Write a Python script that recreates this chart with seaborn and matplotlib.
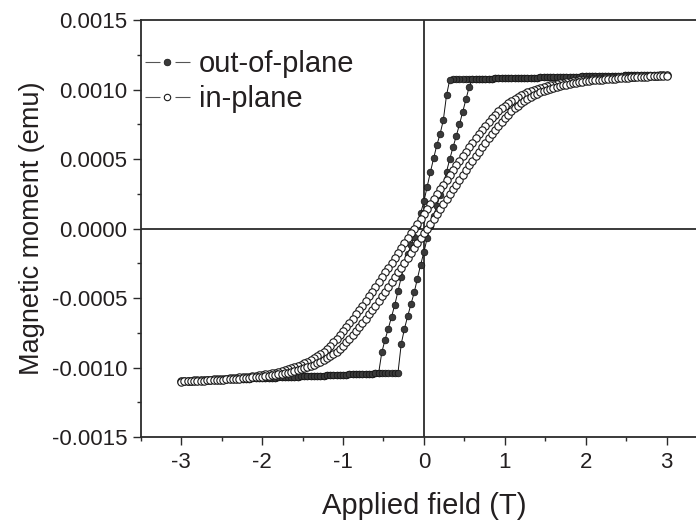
import numpy as np
import pandas as pd
import matplotlib
matplotlib.use("Agg")
import matplotlib.pyplot as plt
from matplotlib.lines import Line2D
from matplotlib.ticker import MultipleLocator, FormatStrFormatter
import seaborn as sns

# Field sweep (T): +3 T down to -3 T; the return sweep runs the same values back up.
field_down_T = [
    3.00, 2.96, 2.92, 2.88, 2.84, 2.80, 2.76, 2.72, 2.68, 2.64,
    2.60, 2.56, 2.52, 2.48, 2.44, 2.40, 2.36, 2.32, 2.28, 2.24,
    2.20, 2.16, 2.12, 2.08, 2.04, 2.00, 1.96, 1.92, 1.88, 1.84,
    1.80, 1.76, 1.72, 1.68, 1.64, 1.60, 1.56, 1.52, 1.48, 1.44,
    1.40, 1.36, 1.32, 1.28, 1.24, 1.20, 1.16, 1.12, 1.08, 1.04,
    1.00, 0.96, 0.92, 0.88, 0.84, 0.80, 0.76, 0.72, 0.68, 0.64,
    0.60, 0.56, 0.52, 0.48, 0.44, 0.40, 0.36, 0.32, 0.28, 0.24,
    0.20, 0.16, 0.12, 0.08, 0.04, 0.00, -0.04, -0.08, -0.12, -0.16,
    -0.20, -0.24, -0.28, -0.32, -0.36, -0.40, -0.44, -0.48, -0.52, -0.56,
    -0.60, -0.64, -0.68, -0.72, -0.76, -0.80, -0.84, -0.88, -0.92, -0.96,
    -1.00, -1.04, -1.08, -1.12, -1.16, -1.20, -1.24, -1.28, -1.32, -1.36,
    -1.40, -1.44, -1.48, -1.52, -1.56, -1.60, -1.64, -1.68, -1.72, -1.76,
    -1.80, -1.84, -1.88, -1.92, -1.96, -2.00, -2.04, -2.08, -2.12, -2.16,
    -2.20, -2.24, -2.28, -2.32, -2.36, -2.40, -2.44, -2.48, -2.52, -2.56,
    -2.60, -2.64, -2.68, -2.72, -2.76, -2.80, -2.84, -2.88, -2.92, -2.96,
    -3.00,
]
field_up_T = field_down_T[::-1]

# Magnetic moment in units of 1e-3 emu.
oop_down_memu = [
    1.108, 1.107, 1.107, 1.106, 1.106, 1.105, 1.105, 1.104, 1.104, 1.103,
    1.103, 1.102, 1.102, 1.101, 1.100, 1.100, 1.099, 1.099, 1.098, 1.098,
    1.097, 1.097, 1.096, 1.096, 1.095, 1.095, 1.094, 1.093, 1.093, 1.092,
    1.092, 1.091, 1.091, 1.090, 1.090, 1.089, 1.089, 1.088, 1.088, 1.087,
    1.086, 1.086, 1.085, 1.085, 1.084, 1.084, 1.083, 1.083, 1.082, 1.082,
    1.081, 1.081, 1.080, 1.080, 1.079, 1.078, 1.078, 1.077, 1.077, 1.076,
    1.076, 1.075, 1.075, 1.074, 1.074, 1.073, 1.073, 1.072,
    0.960, 0.780, 0.680, 0.600, 0.505, 0.405, 0.300, 0.195, 0.110, 0.020,
    -0.060, -0.120, -0.185, -0.250, -0.350, -0.450, -0.550, -0.635, -0.720, -0.800,
    -0.890,
    -1.042, -1.043, -1.044, -1.044, -1.045, -1.046, -1.047, -1.048, -1.049, -1.050,
    -1.051, -1.052, -1.053, -1.054, -1.055, -1.056, -1.057, -1.058, -1.059, -1.060,
    -1.060, -1.061, -1.062, -1.063, -1.064, -1.065, -1.066, -1.067, -1.068, -1.069,
    -1.070, -1.071, -1.072, -1.073, -1.074, -1.075, -1.075, -1.076, -1.077, -1.078,
    -1.079, -1.080, -1.081, -1.082, -1.083, -1.084, -1.085, -1.086, -1.087, -1.088,
    -1.089, -1.090, -1.091, -1.091, -1.092, -1.093, -1.094, -1.095, -1.096, -1.097,
    -1.098, -1.099,
]
oop_up_memu = [
    -1.099, -1.098, -1.097, -1.096, -1.095, -1.094, -1.093, -1.092, -1.091, -1.091,
    -1.090, -1.089, -1.088, -1.087, -1.086, -1.085, -1.084, -1.083, -1.082, -1.081,
    -1.080, -1.079, -1.078, -1.077, -1.076, -1.075, -1.075, -1.074, -1.073, -1.072,
    -1.071, -1.070, -1.069, -1.068, -1.067, -1.066, -1.065, -1.064, -1.063, -1.062,
    -1.061, -1.060, -1.060, -1.059, -1.058, -1.057, -1.056, -1.055, -1.054, -1.053,
    -1.052, -1.051, -1.050, -1.049, -1.048, -1.047, -1.046, -1.045, -1.044, -1.044,
    -1.043, -1.042, -1.041, -1.040, -1.039, -1.038, -1.037, -1.036,
    -0.830, -0.720, -0.630, -0.545, -0.460, -0.360, -0.260, -0.170, -0.070, 0.015,
    0.090, 0.165, 0.240, 0.315, 0.410, 0.500, 0.585, 0.665, 0.750, 0.840,
    0.930, 1.020,
    1.076, 1.076, 1.077, 1.077, 1.078, 1.078, 1.079, 1.080, 1.080, 1.081,
    1.081, 1.082, 1.082, 1.083, 1.083, 1.084, 1.084, 1.085, 1.085, 1.086,
    1.086, 1.087, 1.088, 1.088, 1.089, 1.089, 1.090, 1.090, 1.091, 1.091,
    1.092, 1.092, 1.093, 1.093, 1.094, 1.095, 1.095, 1.096, 1.096, 1.097,
    1.097, 1.098, 1.098, 1.099, 1.099, 1.100, 1.100, 1.101, 1.102, 1.102,
    1.103, 1.103, 1.104, 1.104, 1.105, 1.105, 1.106, 1.106, 1.107, 1.107,
    1.108,
]
ip_down_memu = [
    1.103, 1.102, 1.101, 1.100, 1.099, 1.098, 1.097, 1.096, 1.095, 1.094,
    1.093, 1.092, 1.091, 1.089, 1.088, 1.087, 1.085, 1.084, 1.082, 1.080,
    1.079, 1.077, 1.075, 1.073, 1.071, 1.069, 1.067, 1.065, 1.062, 1.059,
    1.056, 1.053, 1.049, 1.045, 1.041, 1.036, 1.031, 1.025, 1.019, 1.012,
    1.005, 0.997, 0.988, 0.979, 0.969, 0.958, 0.946, 0.933, 0.918, 0.902,
    0.885, 0.864, 0.842, 0.818, 0.792, 0.766, 0.738, 0.709, 0.680, 0.649,
    0.618, 0.586, 0.554, 0.521, 0.488, 0.454, 0.420, 0.386, 0.351, 0.316,
    0.281, 0.246, 0.211, 0.176, 0.141, 0.106, 0.070, 0.035, 0.000,
    -0.035, -0.070, -0.106, -0.141, -0.176, -0.211, -0.246, -0.281, -0.316, -0.351,
    -0.386, -0.420, -0.454, -0.488, -0.521, -0.554, -0.586, -0.618, -0.649, -0.680,
    -0.709, -0.738, -0.766, -0.792, -0.818, -0.842, -0.864, -0.885, -0.902, -0.918,
    -0.933, -0.946, -0.958, -0.969, -0.979, -0.988, -0.997, -1.005, -1.012, -1.019,
    -1.025, -1.031, -1.036, -1.041, -1.045, -1.049, -1.053, -1.056, -1.059, -1.062,
    -1.065, -1.067, -1.069, -1.071, -1.073, -1.075, -1.077, -1.079, -1.080, -1.082,
    -1.084, -1.085, -1.087, -1.088, -1.089, -1.091, -1.092, -1.093, -1.094, -1.095,
    -1.096, -1.097,
]
ip_up_memu = [
    -1.101, -1.100, -1.099, -1.098, -1.097, -1.096, -1.095, -1.094, -1.093, -1.092,
    -1.091, -1.089, -1.088, -1.087, -1.085, -1.084, -1.082, -1.080, -1.079, -1.077,
    -1.075, -1.073, -1.071, -1.069, -1.067, -1.065, -1.062, -1.059, -1.056, -1.053,
    -1.049, -1.045, -1.041, -1.036, -1.031, -1.025, -1.019, -1.012, -1.005, -0.997,
    -0.988, -0.979, -0.969, -0.958, -0.946, -0.933, -0.918, -0.902, -0.885, -0.864,
    -0.842, -0.818, -0.792, -0.766, -0.738, -0.709, -0.680, -0.649, -0.618, -0.586,
    -0.554, -0.521, -0.488, -0.454, -0.420, -0.386, -0.351, -0.316, -0.281, -0.246,
    -0.211, -0.176, -0.141, -0.106, -0.070, -0.035,
    0.000, 0.035, 0.070, 0.106, 0.141, 0.176, 0.211, 0.246, 0.281, 0.316,
    0.351, 0.386, 0.420, 0.454, 0.488, 0.521, 0.554, 0.586, 0.618, 0.649,
    0.680, 0.709, 0.738, 0.766, 0.792, 0.818, 0.842, 0.864, 0.885, 0.902,
    0.918, 0.933, 0.946, 0.958, 0.969, 0.979, 0.988, 0.997, 1.005, 1.012,
    1.019, 1.025, 1.031, 1.036, 1.041, 1.045, 1.049, 1.053, 1.056, 1.059,
    1.062, 1.065, 1.067, 1.069, 1.071, 1.073, 1.075, 1.077, 1.079, 1.080,
    1.082, 1.084, 1.085, 1.087, 1.088, 1.089, 1.091, 1.092, 1.093, 1.094,
    1.095, 1.096, 1.097, 1.098, 1.099,
]

series_labels = ["out-of-plane", "in-plane"]
x_label = "Applied field (T)"
y_label = "Magnetic moment (emu)"

AXIS_COLOR = "#2b2b2b"
TEXT_COLOR = "#231f20"

sns.set_style("ticks")
plt.rcParams["font.family"] = ["Liberation Sans", "DejaVu Sans"]
plt.rcParams["axes.unicode_minus"] = False


def loop_frame(down, up):
    """Full hysteresis loop: descending sweep followed by the ascending one."""
    return pd.DataFrame({
        "field": field_down_T + field_up_T,
        "moment": np.array(down + up) * 1e-3,
    })


oop = loop_frame(oop_down_memu, oop_up_memu)
ip = loop_frame(ip_down_memu, ip_up_memu)

fig = plt.figure(figsize=(6.96, 5.23), dpi=100)
# the right frame edge sits just beyond the canvas
ax = fig.add_axes([0.2022, 0.1644, 0.8137, 0.7973])

ax.axhline(0, color=AXIS_COLOR, lw=1.3, zorder=1)
ax.axvline(0, color=AXIS_COLOR, lw=1.3, zorder=1)

sns.lineplot(data=oop, x="field", y="moment", sort=False, estimator=None, ax=ax,
             color="#111111", lw=0.7, marker="o", markersize=4.8,
             markerfacecolor="#3a3a3a", markeredgecolor="#111111",
             markeredgewidth=0.5, zorder=3)
sns.lineplot(data=ip, x="field", y="moment", sort=False, estimator=None, ax=ax,
             color="#111111", lw=0.7, marker="o", markersize=5.3,
             markerfacecolor="white", markeredgecolor="#1a1a1a",
             markeredgewidth=0.8, zorder=4)

ax.set_xlim(-3.5, 3.5)
ax.set_ylim(-0.0015, 0.0015)
ax.xaxis.set_major_locator(MultipleLocator(1))
ax.xaxis.set_minor_locator(MultipleLocator(0.5))
ax.yaxis.set_major_locator(MultipleLocator(0.0005))
ax.yaxis.set_minor_locator(MultipleLocator(0.00025))
ax.xaxis.set_major_formatter(FormatStrFormatter("%d"))
ax.yaxis.set_major_formatter(FormatStrFormatter("%.4f"))

for side in ["left", "bottom", "top", "right"]:
    ax.spines[side].set_color(AXIS_COLOR)
    ax.spines[side].set_linewidth(1.3)

ax.tick_params(which="major", direction="out", length=5.5, width=1.0,
               color=AXIS_COLOR, labelsize=16, labelcolor=TEXT_COLOR, pad=4)
ax.tick_params(which="minor", direction="out", length=3, width=1.0,
               color=AXIS_COLOR)
ax.tick_params(axis="x", which="major", pad=5)

ax.set_xlabel(x_label, fontsize=21, color=TEXT_COLOR, labelpad=14)
ax.set_ylabel(y_label, fontsize=19.5, color=TEXT_COLOR, labelpad=5)

# legend handles: short line pieces either side of the marker
handles = [
    Line2D([], [], color="#555555", lw=0.8, linestyle=(0, (13.5, 13.5)),
           marker="o", markersize=4.8, markerfacecolor="#3a3a3a",
           markeredgecolor="#111111", markeredgewidth=0.5),
    Line2D([], [], color="#555555", lw=0.8, linestyle=(0, (13.5, 13.5)),
           marker="o", markersize=4.6, markerfacecolor="white",
           markeredgecolor="#1a1a1a", markeredgewidth=0.8),
]
ax.legend(handles, series_labels, loc="upper left",
          bbox_to_anchor=(145 / 696, 1 - 50 / 523), bbox_transform=fig.transFigure,
          frameon=False, fontsize=21, labelcolor=TEXT_COLOR, borderpad=0,
          borderaxespad=0, handlelength=1.54, handletextpad=0.3,
          labelspacing=0.24, numpoints=1)

fig.savefig("out.png", dpi=100)
